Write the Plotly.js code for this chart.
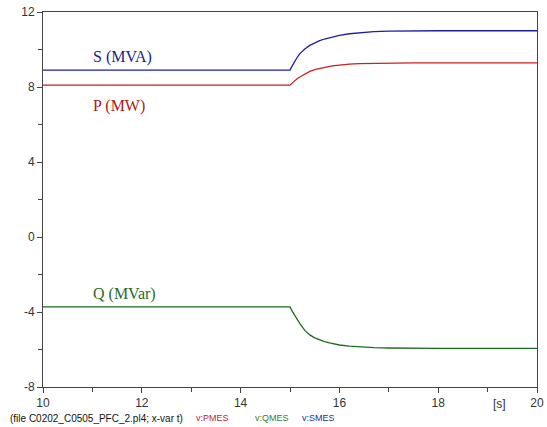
<!DOCTYPE html>
<html><head><meta charset="utf-8">
<script src="https://cdn.plot.ly/plotly-3.0.1.min.js"></script>
<style>html,body{margin:0;padding:0;background:#fff}#c{width:547px;height:427px}</style>
</head><body><div id="c"></div>
<script>
const time = [10, 15, 15.05, 15.1, 15.15, 15.2, 15.3, 15.4, 15.5, 15.6, 15.7, 15.8, 15.9, 16.0, 16.2, 16.4, 16.7, 17.0, 17.5, 18, 20];
const sMES = [8.9, 8.9, 9.15, 9.4, 9.6, 9.78, 10.03, 10.22, 10.36, 10.47, 10.56, 10.63, 10.7, 10.75, 10.84, 10.9, 10.95, 10.98, 11.0, 11.0, 11.0];
const pMES = [8.1, 8.1, 8.22, 8.35, 8.45, 8.53, 8.7, 8.83, 8.93, 9.0, 9.05, 9.1, 9.14, 9.17, 9.22, 9.25, 9.27, 9.28, 9.29, 9.29, 9.29];
const qMES = [-3.73, -3.73, -3.98, -4.2, -4.42, -4.62, -4.98, -5.22, -5.38, -5.5, -5.58, -5.65, -5.71, -5.76, -5.82, -5.86, -5.9, -5.92, -5.93, -5.94, -5.94];
const xTicks = [10, 12, 14, 16, 18, 20];
const yTicks = [-8, -4, 0, 4, 8, 12];

const traces = [
  {x: time, y: pMES, mode: 'lines', line: {color: '#cc1f1f', width: 1.3}, name: 'v:PMES'},
  {x: time, y: qMES, mode: 'lines', line: {color: '#1f6b1f', width: 1.3}, name: 'v:QMES'},
  {x: time, y: sMES, mode: 'lines', line: {color: '#1f1fa0', width: 1.3}, name: 'v:SMES'}
];
const tickFont = {family: 'Liberation Sans, Arial, sans-serif', size: 12, color: '#333'};
const serif = 'Liberation Serif, Times New Roman, serif';
const small = 'Liberation Sans, Arial, sans-serif';
const layout = {
  width: 547, height: 427,
  margin: {l: 43, r: 10, t: 12, b: 40},
  paper_bgcolor: '#fff', plot_bgcolor: '#fff',
  showlegend: false,
  xaxis: {range: [10, 20], tickvals: xTicks, ticktext: xTicks.map(String), ticks: 'outside', ticklen: 5, tickcolor: '#444',
          showline: true, linecolor: '#444', linewidth: 1, mirror: true, showgrid: false, zeroline: false,
          tickfont: tickFont, minor: {dtick: 1, tick0: 10, ticks: 'outside', ticklen: 4, tickcolor: '#444'}},
  yaxis: {range: [-8, 12], tickvals: yTicks, ticktext: yTicks.map(String), ticks: 'outside', ticklen: 5, tickcolor: '#444',
          showline: true, linecolor: '#444', linewidth: 1, mirror: true, showgrid: false, zeroline: false,
          tickfont: tickFont, minor: {dtick: 2, tick0: 0, ticks: 'outside', ticklen: 4, tickcolor: '#444'}},
  annotations: [
    {x: 10.97, y: 9.6, xref: 'x', yref: 'y', xanchor: 'left', text: 'S (MVA)', showarrow: false, font: {family: serif, size: 16, color: '#23238a'}},
    {x: 10.97, y: 7.0, xref: 'x', yref: 'y', xanchor: 'left', text: 'P (MW)', showarrow: false, font: {family: serif, size: 16, color: '#a81c1c'}},
    {x: 10.97, y: -3.05, xref: 'x', yref: 'y', xanchor: 'left', text: 'Q (MVar)', showarrow: false, font: {family: serif, size: 16, color: '#2a682a'}},
    {x: 19.25, y: 0, xref: 'x', yref: 'paper', yanchor: 'top', yshift: -8, text: '[s]', showarrow: false, font: tickFont},
    {x: -0.071, y: -0.083, xref: 'paper', yref: 'paper', xanchor: 'left', yanchor: 'middle', text: '(file C0202_C0505_PFC_2.pl4; x-var t)', showarrow: false, font: {family: small, size: 10, color: '#111'}},
    {x: 0.306, y: -0.083, xref: 'paper', yref: 'paper', xanchor: 'left', yanchor: 'middle', text: 'v:PMES', showarrow: false, font: {family: small, size: 9, color: '#cc2222'}},
    {x: 0.425, y: -0.083, xref: 'paper', yref: 'paper', xanchor: 'left', yanchor: 'middle', text: 'v:QMES', showarrow: false, font: {family: small, size: 9, color: '#2e7d32'}},
    {x: 0.52, y: -0.083, xref: 'paper', yref: 'paper', xanchor: 'left', yanchor: 'middle', text: 'v:SMES', showarrow: false, font: {family: small, size: 9, color: '#2a2a90'}}
  ]
};
Plotly.newPlot('c', traces, layout, {staticPlot: true, displayModeBar: false});
</script>
</body></html>
